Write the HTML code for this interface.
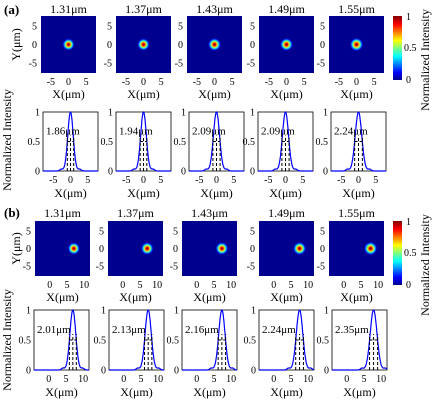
<!DOCTYPE html>
<html><head><meta charset="utf-8"><style>
body{margin:0;background:#fff;}
svg{display:block;font-family:"Liberation Serif",serif;}
</style></head><body>
<svg id="fig" width="437" height="405">
<defs>
<radialGradient id="spot">
<stop offset="0" stop-color="#800000"/>
<stop offset="0.18" stop-color="#e00000"/>
<stop offset="0.38" stop-color="#ffd000"/>
<stop offset="0.55" stop-color="#40ffc0"/>
<stop offset="0.72" stop-color="#0060ff"/>
<stop offset="0.88" stop-color="#0000b0"/>
<stop offset="1" stop-color="#00008f"/>
</radialGradient>
<linearGradient id="jet" x1="0" y1="1" x2="0" y2="0">
<stop offset="0" stop-color="#00008f"/>
<stop offset="0.12" stop-color="#0000ff"/>
<stop offset="0.37" stop-color="#00ffff"/>
<stop offset="0.5" stop-color="#80ff80"/>
<stop offset="0.62" stop-color="#ffff00"/>
<stop offset="0.87" stop-color="#ff0000"/>
<stop offset="1" stop-color="#800000"/>
</linearGradient>
</defs>
</svg>
<script>
const wavelengths = ["1.31μm","1.37μm","1.43μm","1.49μm","1.55μm"];
const widthsA = [1.86,1.94,2.09,2.09,2.24];
const widthsB = [2.01,2.13,2.16,2.24,2.35];
const centersA = [0,0,0,0,0];
const centersB = [7.0,7.1,7.3,7.5,7.8];
const ticksA = [-5,0,5];
const ticksB = [0,5,10];
const ticksY = [1,0.5,0];

const NS="http://www.w3.org/2000/svg";
const svg=document.getElementById('fig');
function mk(tag,attrs,parent){const e=document.createElementNS(NS,tag);for(const k in attrs)e.setAttribute(k,attrs[k]);(parent||svg).appendChild(e);return e;}
function txt(x,y,s,size,anchor,parent,extra){const t=mk('text',Object.assign({x:x,y:y,'font-size':size,'text-anchor':anchor||'middle',fill:'#000'},extra||{}),parent);t.textContent=s;return t;}

const rows=[
 {imgL:[41,116,187,259,329],imgY:16,imgH:57,lineL:[43,116,189,258,331],lineY:112,lineH:59,xmin:-7.8,xmax:7.8,lxmin:-8,lxmax:8,ticks:ticksA,centers:centersA,widths:widthsA,tag:"(a)",tagY:14,titleY:13,cbY:16,nameY:140},
 {imgL:[35,108,182,259,329],imgY:221,imgH:55,lineL:[34,109,182,259,332],lineY:310,lineH:60,xmin:-4.3,xmax:11.7,lxmin:-4.3,lxmax:11.7,ticks:ticksB,centers:centersB,widths:widthsB,tag:"(b)",tagY:217,titleY:217,cbY:221,nameY:340}
];
const W=55;
rows.forEach((r,ri)=>{
 const tg=txt(4,r.tagY,r.tag,13,'start',null,{'font-weight':'bold'});
 
 
 const yl=txt(0,0,"Y(μm)",12,'middle',null,{transform:`translate(20,${r.imgY+r.imgH/2}) rotate(-90)`});
 
 
 const nl=txt(0,0,"Normalized Intensity",12,'middle',null,{transform:`translate(11,${r.nameY}) rotate(-90)`});
 
 
 for(let i=0;i<5;i++){
  const g=mk('g',{});
  
  
  const x0=r.imgL[i],y0=r.imgY,h=r.imgH;
  const sx=v=>x0+(v-r.xmin)/(r.xmax-r.xmin)*W;
  const sy=v=>y0+h/2-v/7.8*(h/2);
  mk('rect',{x:x0,y:y0,width:W,height:h,fill:'#00008f'},g);
  const rad=(1.8+ (r.widths[i]-1.86)*0.5)*W/(r.xmax-r.xmin);
  mk('circle',{cx:sx(r.centers[i]),cy:sy(0),r:rad,fill:'url(#spot)'},g);
  txt(x0+W/2,r.titleY,wavelengths[i],12,'middle',g);
  [5,0,-5].forEach(v=>txt(x0-4,sy(v)+3.5,String(v),10,'end',g));
  r.ticks.forEach(v=>txt(sx(v),y0+h+12,String(v),10,'middle',g));
  txt(x0+W/2,y0+h+25,"X(μm)",12,'middle',g);
  const lg=mk('g',{});
  
  
  const lx=r.lineL[i],ly=r.lineY,lh=r.lineH;
  const px=v=>lx+(v-r.lxmin)/(r.lxmax-r.lxmin)*W;
  const py=v=>ly+lh-v*lh;
  mk('rect',{x:lx,y:ly,width:W,height:lh,fill:'none',stroke:'#000','stroke-width':0.8},lg);
  ticksY.forEach(v=>txt(lx-3,py(v)+3.5,String(v),10,'end',lg));
  r.ticks.forEach(v=>txt(px(v),ly+lh+12,String(v),10,'middle',lg));
  txt(lx+W/2,ly+lh+26,"X(μm)",12,'middle',lg);
  const c=r.centers[i],w=r.widths[i],s=w/2.355;
  let d='';
  for(let k=0;k<=200;k++){const xv=r.lxmin+(r.lxmax-r.lxmin)*k/200;
   let yv=Math.exp(-((xv-c)**2)/(2*s*s));
   yv+=0.03*Math.exp(-((Math.abs(xv-c)-2.6*s*1.3)**2)/(0.4));
   d+=(k?'L':'M')+px(xv).toFixed(1)+','+py(Math.min(yv,1)).toFixed(1);}
  const cur=mk('path',{d:d,fill:'none',stroke:'#0000ff','stroke-width':1.2},lg);
  
  
  [c-w/2,c,c+w/2].forEach(v=>mk('line',{x1:px(v),x2:px(v),y1:py(0),y2:py(0.6),stroke:'#000','stroke-width':1,'stroke-dasharray':'3,2'},lg));
  mk('line',{x1:px(c-w/2),x2:px(c+w/2),y1:py(0.5),y2:py(0.5),stroke:'#000','stroke-width':1,'stroke-dasharray':'3,2'},lg);
  txt(lx+3,py(0.62),r.widths[i].toFixed(2)+"μm",11,'start',lg);
 }
 const cb=mk('g',{});
 
 
 mk('rect',{x:393,y:r.cbY,width:9,height:64,fill:'url(#jet)'},cb);
 txt(406,r.cbY+4,"1",10,'start',cb);
 txt(404,r.cbY+35,"0.5",10,'start',cb);
 txt(406,r.cbY+67,"0",10,'start',cb);
 txt(0,0,"Normalized Intensity",12,'middle',cb,{transform:`translate(429,${r.cbY+44}) rotate(-90)`});
});
</script>
</body></html>
